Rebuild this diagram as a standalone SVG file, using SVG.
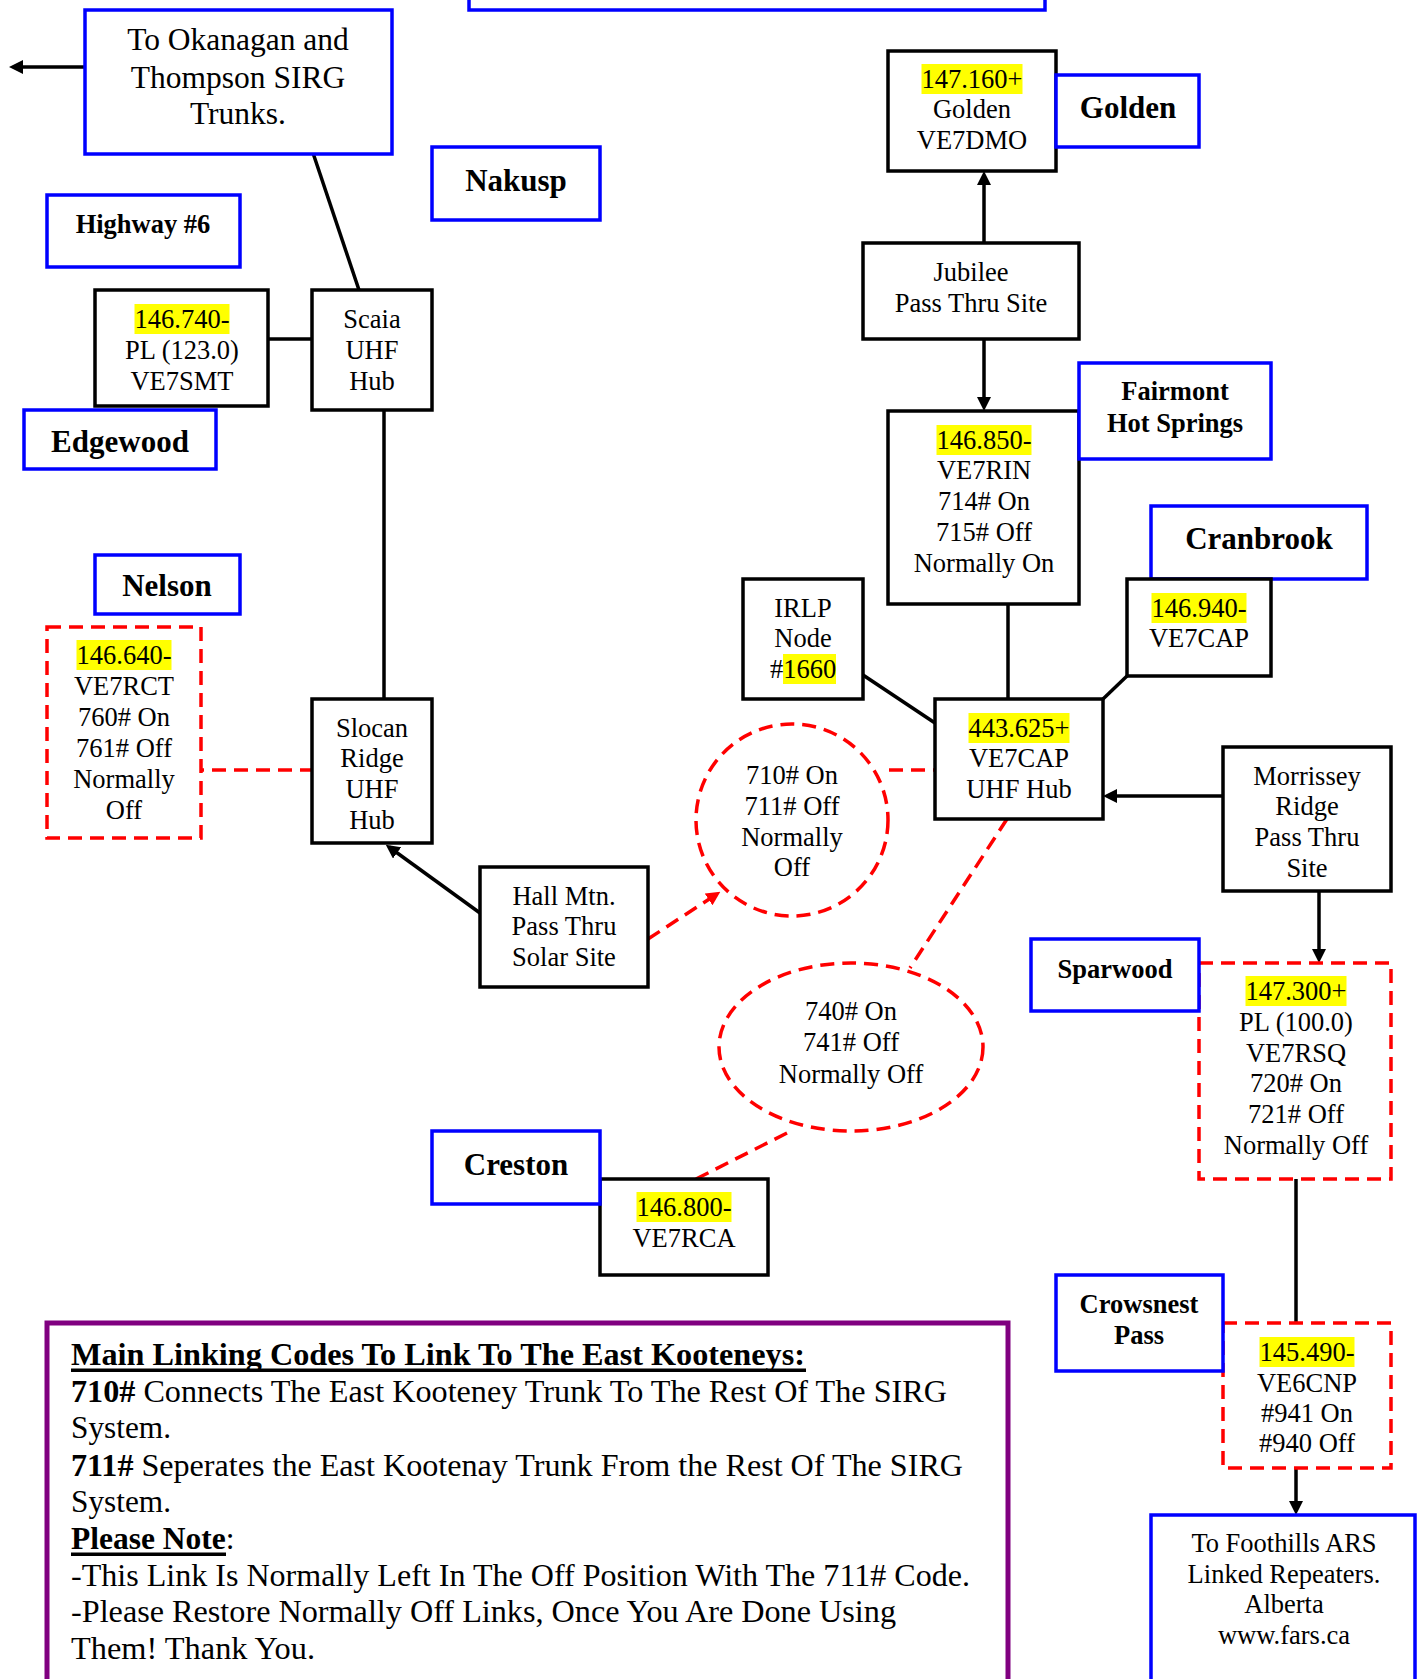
<svg xmlns="http://www.w3.org/2000/svg" width="1422" height="1679" viewBox="0 0 1422 1679">
<style>
.bx{fill:#fff;stroke:#000;stroke-width:3.5}
.bl{fill:#fff;stroke:#0000ff;stroke-width:3.5}
.rd{fill:#fff;stroke:#ff0000;stroke-width:3.5;stroke-dasharray:14 8}
.t{font-family:"Liberation Serif","Times New Roman",serif;font-size:26.5px;text-anchor:middle;fill:#000}
.lg{font-family:"Liberation Serif","Times New Roman",serif;font-size:31.5px;fill:#000}
.big{font-size:31px;font-weight:bold}
.b{font-weight:bold}
.hl{fill:#ffff00}
.ln{stroke:#000;stroke-width:3.5;fill:none}
.rl{stroke:#ff0000;stroke-width:3.5;stroke-dasharray:14 8;fill:none}
</style>
<defs>
<marker id="ah" viewBox="0 0 14 14" refX="10" refY="7" markerWidth="14" markerHeight="14" markerUnits="userSpaceOnUse" orient="auto"><path d="M0,0 L14,7 L0,14 z" fill="#000"/></marker>
<marker id="ahr" viewBox="0 0 14 14" refX="10" refY="7" markerWidth="14" markerHeight="14" markerUnits="userSpaceOnUse" orient="auto"><path d="M0,0 L14,7 L0,14 z" fill="#ff0000"/></marker>
</defs>
<rect width="1422" height="1679" fill="#fff"/>

<g id="connectors">
<line class="ln" x1="85" y1="67" x2="13" y2="67" marker-end="url(#ah)"/>
<line class="ln" x1="312" y1="150" x2="359" y2="290"/>
<line class="ln" x1="268" y1="339" x2="312" y2="339"/>
<line class="ln" x1="384" y1="410" x2="384" y2="699"/>
<line class="rl" x1="190" y1="770" x2="312" y2="770"/>
<line class="ln" x1="480" y1="913" x2="389" y2="847" marker-end="url(#ah)"/>
<line class="rl" x1="648" y1="939" x2="717" y2="894" marker-end="url(#ahr)"/>
<line class="rl" x1="889" y1="770" x2="935" y2="770"/>
<line class="ln" x1="863" y1="675" x2="935" y2="723"/>
<line class="ln" x1="1008" y1="604" x2="1008" y2="699"/>
<line class="ln" x1="984" y1="339" x2="984" y2="407" marker-end="url(#ah)"/>
<line class="ln" x1="984" y1="243" x2="984" y2="175" marker-end="url(#ah)"/>
<line class="ln" x1="1103" y1="699" x2="1127" y2="676"/>
<line class="ln" x1="1223" y1="796" x2="1107" y2="796" marker-end="url(#ah)"/>
<line class="ln" x1="1319" y1="891" x2="1319" y2="959" marker-end="url(#ah)"/>
<line class="rl" x1="1007" y1="819" x2="910" y2="968"/>
<line class="rl" x1="787" y1="1133" x2="696" y2="1179"/>
<line class="ln" x1="1296" y1="1179" x2="1296" y2="1323"/>
<line class="ln" x1="1296" y1="1468" x2="1296" y2="1511" marker-end="url(#ah)"/>
</g>

<g id="top-box"><rect class="bl" x="469" y="-10" width="576" height="20"/></g>

<g id="okanagan">
<rect class="bl" x="85" y="10" width="307" height="144"/>
<text class="t" style="font-size:31.5px" x="238" y="50">To Okanagan and</text>
<text class="t" style="font-size:31.5px" x="238" y="88">Thompson SIRG</text>
<text class="t" style="font-size:31.5px" x="238" y="124">Trunks.</text>
</g>

<g id="nakusp"><rect class="bl" x="432" y="147" width="168" height="73"/><text class="t big" x="516" y="191">Nakusp</text></g>
<g id="highway6"><rect class="bl" x="47" y="195" width="193" height="72"/><text class="t b" x="143" y="233">Highway #6</text></g>

<g id="ve7smt">
<rect class="bx" x="95" y="290" width="173" height="116"/>
<rect class="hl" x="134.5" y="304" width="95" height="30"/>
<text class="t" x="182" y="328">146.740-</text>
<text class="t" x="182" y="359">PL (123.0)</text>
<text class="t" x="182" y="390">VE7SMT</text>
</g>

<g id="scaia">
<rect class="bx" x="312" y="290" width="120" height="120"/>
<text class="t" x="372" y="328">Scaia</text>
<text class="t" x="372" y="359">UHF</text>
<text class="t" x="372" y="390">Hub</text>
</g>

<g id="edgewood"><rect class="bl" x="24" y="410" width="192" height="59"/><text class="t big" x="120" y="452">Edgewood</text></g>
<g id="nelson"><rect class="bl" x="95" y="555" width="145" height="59"/><text class="t big" x="167" y="596">Nelson</text></g>

<g id="ve7rct">
<rect class="rd" x="47" y="627" width="154" height="211"/>
<rect class="hl" x="76.5" y="640" width="95" height="30"/>
<text class="t" x="124" y="664">146.640-</text>
<text class="t" x="124" y="695">VE7RCT</text>
<text class="t" x="124" y="726">760# On</text>
<text class="t" x="124" y="757">761# Off</text>
<text class="t" x="124" y="788">Normally</text>
<text class="t" x="124" y="819">Off</text>
</g>

<g id="slocan">
<rect class="bx" x="312" y="699" width="120" height="144"/>
<text class="t" x="372" y="737">Slocan</text>
<text class="t" x="372" y="767">Ridge</text>
<text class="t" x="372" y="798">UHF</text>
<text class="t" x="372" y="829">Hub</text>
</g>

<g id="hallmtn">
<rect class="bx" x="480" y="867" width="168" height="120"/>
<text class="t" x="564" y="905">Hall Mtn.</text>
<text class="t" x="564" y="935">Pass Thru</text>
<text class="t" x="564" y="966">Solar Site</text>
</g>

<g id="code710">
<ellipse class="rd" cx="792" cy="820" rx="96" ry="96"/>
<text class="t" x="792" y="784">710# On</text>
<text class="t" x="792" y="815">711# Off</text>
<text class="t" x="792" y="846">Normally</text>
<text class="t" x="792" y="876">Off</text>
</g>

<g id="hub">
<rect class="bx" x="935" y="699" width="168" height="120"/>
<rect class="hl" x="968.5" y="713" width="101" height="30"/>
<text class="t" x="1019" y="737">443.625+</text>
<text class="t" x="1019" y="767">VE7CAP</text>
<text class="t" x="1019" y="798">UHF Hub</text>
</g>

<g id="irlp">
<rect class="bx" x="743" y="579" width="120" height="120"/>
<rect class="hl" x="783" y="654" width="53" height="30"/>
<text class="t" x="803" y="617">IRLP</text>
<text class="t" x="803" y="647">Node</text>
<text class="t" x="803" y="678">#1660</text>
</g>

<g id="ve7rin">
<rect class="bx" x="888" y="411" width="191" height="193"/>
<rect class="hl" x="936.5" y="425" width="95" height="30"/>
<text class="t" x="984" y="449">146.850-</text>
<text class="t" x="984" y="479">VE7RIN</text>
<text class="t" x="984" y="510">714# On</text>
<text class="t" x="984" y="541">715# Off</text>
<text class="t" x="984" y="572">Normally On</text>
</g>

<g id="jubilee">
<rect class="bx" x="863" y="243" width="216" height="96"/>
<text class="t" x="971" y="281">Jubilee</text>
<text class="t" x="971" y="312">Pass Thru Site</text>
</g>

<g id="ve7dmo">
<rect class="bx" x="888" y="51" width="168" height="120"/>
<rect class="hl" x="921.5" y="64" width="101" height="30"/>
<text class="t" x="972" y="88">147.160+</text>
<text class="t" x="972" y="118">Golden</text>
<text class="t" x="972" y="149">VE7DMO</text>
</g>

<g id="golden"><rect class="bl" x="1056" y="75" width="143" height="72"/><text class="t big" x="1128" y="118">Golden</text></g>

<g id="fairmont">
<rect class="bl" x="1079" y="363" width="192" height="96"/>
<text class="t b" x="1175" y="400">Fairmont</text>
<text class="t b" x="1175" y="432">Hot Springs</text>
</g>

<g id="cranbrook"><rect class="bl" x="1151" y="506" width="216" height="73"/><text class="t big" x="1259" y="549">Cranbrook</text></g>

<g id="ve7cap">
<rect class="bx" x="1127" y="579" width="144" height="97"/>
<rect class="hl" x="1151.5" y="593" width="95" height="30"/>
<text class="t" x="1199" y="617">146.940-</text>
<text class="t" x="1199" y="647">VE7CAP</text>
</g>

<g id="morrissey">
<rect class="bx" x="1223" y="747" width="168" height="144"/>
<text class="t" x="1307" y="785">Morrissey</text>
<text class="t" x="1307" y="815">Ridge</text>
<text class="t" x="1307" y="846">Pass Thru</text>
<text class="t" x="1307" y="877">Site</text>
</g>

<g id="ve7rsq">
<rect class="rd" x="1199" y="963" width="192" height="216"/>
<rect class="hl" x="1245.5" y="976" width="101" height="30"/>
<text class="t" x="1296" y="1000">147.300+</text>
<text class="t" x="1296" y="1031">PL (100.0)</text>
<text class="t" x="1296" y="1062">VE7RSQ</text>
<text class="t" x="1296" y="1092">720# On</text>
<text class="t" x="1296" y="1123">721# Off</text>
<text class="t" x="1296" y="1154">Normally Off</text>
</g>

<g id="sparwood"><rect class="bl" x="1031" y="939" width="168" height="72"/><text class="t b" x="1115" y="978">Sparwood</text></g>

<g id="code740">
<ellipse class="rd" cx="851" cy="1047" rx="132" ry="84"/>
<text class="t" x="851" y="1020">740# On</text>
<text class="t" x="851" y="1051">741# Off</text>
<text class="t" x="851" y="1083">Normally Off</text>
</g>

<g id="ve7rca">
<rect class="bx" x="600" y="1179" width="168" height="96"/>
<rect class="hl" x="636.5" y="1192" width="95" height="30"/>
<text class="t" x="684" y="1216">146.800-</text>
<text class="t" x="684" y="1247">VE7RCA</text>
</g>

<g id="creston"><rect class="bl" x="432" y="1131" width="168" height="73"/><text class="t big" x="516" y="1175">Creston</text></g>

<g id="ve6cnp">
<rect class="rd" x="1223" y="1323" width="168" height="145"/>
<rect class="hl" x="1259.5" y="1337" width="95" height="30"/>
<text class="t" x="1307" y="1361">145.490-</text>
<text class="t" x="1307" y="1392">VE6CNP</text>
<text class="t" x="1307" y="1422">#941 On</text>
<text class="t" x="1307" y="1452">#940 Off</text>
</g>

<g id="crowsnest">
<rect class="bl" x="1056" y="1275" width="167" height="96"/>
<text class="t b" x="1139" y="1313">Crowsnest</text>
<text class="t b" x="1139" y="1344">Pass</text>
</g>

<g id="foothills">
<rect class="bl" x="1151" y="1515" width="264" height="180"/>
<text class="t" x="1284" y="1552">To Foothills ARS</text>
<text class="t" x="1284" y="1583">Linked Repeaters.</text>
<text class="t" x="1284" y="1613">Alberta</text>
<text class="t" x="1284" y="1644">www.fars.ca</text>
</g>

<g id="legend">
<rect x="47" y="1323" width="961" height="370" fill="#fff" stroke="#800080" stroke-width="5"/>
<text class="lg b" x="71" y="1365" textLength="734" lengthAdjust="spacingAndGlyphs">Main Linking Codes To Link To The East Kooteneys:</text>
<rect x="71" y="1368.5" width="735" height="3.5" fill="#000"/>
<text class="lg" x="71" y="1402" textLength="876" lengthAdjust="spacingAndGlyphs"><tspan class="b">710#</tspan> Connects The East Kooteney Trunk To The Rest Of The SIRG</text>
<text class="lg" x="71" y="1438" textLength="100" lengthAdjust="spacingAndGlyphs">System.</text>
<text class="lg" x="71" y="1476" textLength="892" lengthAdjust="spacingAndGlyphs"><tspan class="b">711#</tspan> Seperates the East Kootenay Trunk From the Rest Of The SIRG</text>
<text class="lg" x="71" y="1512" textLength="100" lengthAdjust="spacingAndGlyphs">System.</text>
<text class="lg" x="71" y="1549"><tspan class="b">Please Note</tspan>:</text>
<rect x="71" y="1552.5" width="155" height="3.5" fill="#000"/>
<text class="lg" x="71" y="1586" textLength="899" lengthAdjust="spacingAndGlyphs">-This Link Is Normally Left In The Off Position With The 711# Code.</text>
<text class="lg" x="71" y="1622" textLength="825" lengthAdjust="spacingAndGlyphs">-Please Restore Normally Off Links, Once You Are Done Using</text>
<text class="lg" x="71" y="1659" textLength="244" lengthAdjust="spacingAndGlyphs">Them! Thank You.</text>
</g>
</svg>
